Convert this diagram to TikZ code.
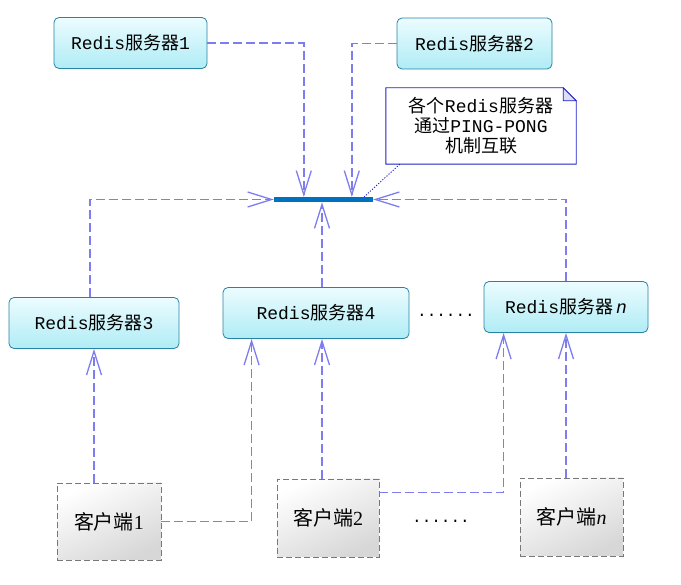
\documentclass[tikz,border=0pt]{standalone}
\usepackage{fontspec}
\setmainfont{Liberation Serif}
\setmonofont{Liberation Mono}
\newfontfamily\cjk{Noto Sans CJK SC}
\usetikzlibrary{arrows.meta,calc}
\definecolor{srvborder}{RGB}{40,130,165}
\definecolor{srvtop}{RGB}{236,252,255}
\definecolor{srvbot}{RGB}{175,236,245}
\definecolor{cligray}{RGB}{120,120,120}
\definecolor{cligrad}{RGB}{215,215,215}
\definecolor{connc}{RGB}{125,125,240}
\definecolor{barc}{RGB}{0,112,192}
\definecolor{notec}{RGB}{30,30,200}
\newcommand\rs[1]{\texttt{Redis}{\cjk 服务器}\texttt{#1}}
\newcommand\kh[1]{{\cjk 客户端}#1}
\tikzset{
  srv/.style={rectangle, rounded corners=5pt, draw=srvborder, line width=0.8pt,
    top color=srvtop, bottom color=srvbot, minimum height=51pt, inner sep=0pt,
    font=\fontsize{18}{20}\selectfont},
  cli/.style={rectangle, draw=cligray, dash pattern=on 6pt off 3pt, line width=0.9pt,
    top color=white, bottom color=cligrad, shading angle=25, inner sep=0pt,
    minimum height=77pt, font=\fontsize{20}{22}\selectfont},
  conn/.style={draw=connc, line width=1.5pt, dash pattern=on 9pt off 4pt,
    -{Straight Barb[length=24pt,width=15pt,line width=1.3pt]}},
  dots/.style={inner sep=0pt, font=\ttfamily\fontsize{16}{18}\selectfont},
}
\begin{document}
\begin{tikzpicture}[x=1pt,y=-1pt]
\useasboundingbox (0,0) rectangle (681,585);
% servers
\node[srv, minimum width=153pt] (r1) at (130.5,43) {\rs{1}};
\node[srv, minimum width=155pt] (r2) at (474.5,43.5) {\rs{2}};
\node[srv, minimum width=170pt] (r3) at (94,323) {\rs{3}};
\node[srv, minimum width=186pt] (r4) at (316,313) {\rs{4}};
\node[srv, minimum width=164pt] (rn) at (566,307) {\rs{\,\textit{n}}};
% clients
\node[cli, minimum width=104pt] (c1) at (109,521.5) {\kh{1}};
\node[cli, minimum width=102pt, minimum height=78pt] (c2) at (328,518) {\kh{2}};
\node[cli, minimum width=103pt, minimum height=78pt] (cn) at (571.5,517) {\kh{\textit{n}}};
% dots
\node[dots] (d1) at (446,315) {......};
\node[dots] (d2) at (441,521) {......};
% bar
\node[fill=barc, draw=none, minimum width=99pt, minimum height=5pt, inner sep=0pt] (bar) at (323.5,199.5) {};
% note
\node[minimum width=190pt, minimum height=76pt, inner sep=0pt, align=center,
      font=\fontsize{18}{20}\selectfont] (note) at (481,126)
  {{\cjk 各个}\texttt{Redis}{\cjk 服务器}\\{\cjk 通过}\texttt{PING-PONG}\\{\cjk 机制互联}};
\draw[notec, line width=0.9pt] (note.south west) -- (note.north west)
  -- ($(note.north east)+(-13pt,0pt)$) -- ($(note.north east)+(0pt,-13pt)$)
  -- (note.south east) -- cycle;
\draw[notec, line width=0.8pt, fill=notec!15] ($(note.north east)+(-13pt,0pt)$)
  -- ($(note.north east)+(-13pt,-13pt)$) -- ($(note.north east)+(0pt,-13pt)$) -- cycle;
\draw[notec, line width=0.9pt, dash pattern=on 1.2pt off 1.6pt]
  ($(note.south west)+(14pt,0pt)$) -- ($(bar.north east)+(-9pt,0pt)$);
% connectors to bar
\coordinate (b1) at ($(bar.north west)+(30pt,0pt)$);
\coordinate (b2) at ($(bar.north west)+(78pt,0pt)$);
\coordinate (b4) at ($(bar.south)+(-1.5pt,0pt)$);
\coordinate (t3) at ($(r3.north)+(-4pt,0pt)$);
\draw[conn] (r1.east) -| (b1);
\draw[conn] (r2.west) -| (b2);
\draw[conn] (t3) |- (bar.west);
\draw[conn] (r4.north -| b4) -- (b4);
\draw[conn] (rn.north) |- (bar.east);
% client connectors
\coordinate (s4) at ($(r4.south west)+(29pt,0pt)$);
\coordinate (sn) at ($(rn.south west)+(20pt,0pt)$);
\coordinate (e2) at ($(c2.north east)+(0pt,-14pt)$);
\draw[conn] (c1.north -| r3.south) -- (r3.south);
\draw[conn] (c1.east) -| (s4);
\draw[conn] (c2.north -| b4) -- (r4.south -| b4);
\draw[conn] (e2) -| (sn);
\draw[conn] (cn.north -| rn.south) -- (rn.south);
\end{tikzpicture}
\end{document}
